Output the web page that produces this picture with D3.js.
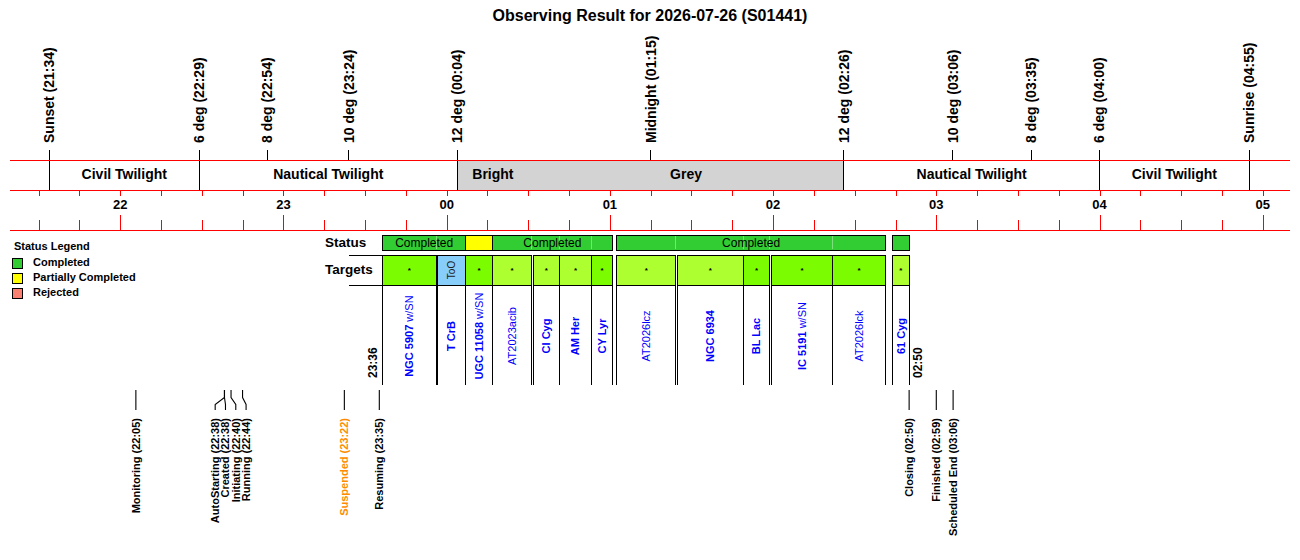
<!DOCTYPE html>
<html><head><meta charset="utf-8">
<script src="https://cdn.jsdelivr.net/npm/d3@7"></script>
<style>body{margin:0;background:#fff} text{font-family:"Liberation Sans",Arial,Helvetica,sans-serif} line,rect{shape-rendering:crispEdges}</style>
</head><body><svg id="c" width="1300" height="560"></svg>
<script>
// ---------------- DATA ----------------
const title = "Observing Result for 2026-07-26 (S01441)";
const domainTimes = ["21:19:30", "05:10:00"];

const sunNames = ["Sunset", "6 deg", "8 deg", "10 deg", "12 deg", "Midnight", "12 deg", "10 deg", "8 deg", "6 deg", "Sunrise"];
const sunTimes = ["21:34", "22:29", "22:54", "23:24", "00:04", "01:15", "02:26", "03:06", "03:35", "04:00", "04:55"];
const sunIsBoundary = [true, true, false, false, true, false, true, false, false, true, true];

const bandNames = ["Civil Twilight", "Nautical Twilight", "Bright", "Grey", "Nautical Twilight", "Civil Twilight"];
const bandStarts = ["21:34", "22:29", "00:04", "00:30", "02:26", "04:00"];
const bandEnds = ["22:29", "00:04", "00:30", "02:26", "04:00", "04:55"];
const bandKinds = ["twilight", "twilight", "moon", "moon", "twilight", "twilight"];

const targetNames = ["NGC 5907 w/SN", "T CrB", "UGC 11058 w/SN", "AT2023acib", "CI Cyg", "AM Her", "CY Lyr",
  "AT2026lcz", "NGC 6934", "BL Lac", "IC 5191 w/SN", "AT2026lck", "61 Cyg"];
const targetStarts = ["23:36:30", "23:56:40", "00:07:00", "00:16:48", "00:31:50", "00:41:24", "00:53:18",
  "01:02:30", "01:24:54", "01:49:00", "01:59:24", "02:21:54", "02:43:54"];
const targetEnds = ["23:56:06", "00:07:00", "00:16:48", "00:31:18", "00:41:24", "00:53:18", "01:00:54",
  "01:24:18", "01:49:00", "01:58:48", "02:21:54", "02:41:18", "02:50:00"];
const targetClass = ["a", "too", "a", "b", "b", "b", "a", "b", "b", "a", "a", "a", "b"];

const statusStarts = ["23:36:30", "23:56:06", "00:07:00", "00:16:48", "00:31:18", "00:41:24", "00:53:18",
  "01:02:30", "01:24:18", "01:49:00", "01:58:48", "02:21:54", "02:43:54"];
const statusEnds = ["23:56:06", "00:07:00", "00:16:48", "00:31:18", "00:41:24", "00:53:18", "01:00:54",
  "01:24:18", "01:49:00", "01:58:48", "02:21:54", "02:41:18", "02:50:00"];
const statusValues = ["Completed", "Completed", "Partially Completed", "Completed", "Completed", "Completed", "Completed",
  "Completed", "Completed", "Completed", "Completed", "Completed", "Completed"];

const legendItems = ["Completed", "Partially Completed", "Rejected"];

const eventNames = ["Monitoring", "AutoStarting", "Created", "Initiating", "Running", "Suspended", "Resuming", "Closing", "Finished", "Scheduled End"];
const eventTimes = ["22:05:46", "22:38:20", "22:38:20", "22:40:45", "22:44:59", "23:22:24", "23:35:15", "02:50:00", "02:59:59", "03:06:10"];

// ---------------- DRAW ----------------
const parse = t => { const p = t.split(":").map(Number); const day = p[0] >= 12 ? 26 : 27; return new Date(2026, 6, day, p[0], p[1], p[2] || 0); };
const fmt = d3.timeFormat("%H:%M");
const svg = d3.select("#c");

const x = d3.scaleTime().domain(domainTimes.map(parse)).range([10, 1290]);
const statusColor = d3.scaleOrdinal().domain(legendItems).range(["#32cd32", "#ffff00", "#fa8072"]);
const cellColor = d3.scaleOrdinal().domain(["a", "b", "too"]).range(["#7cfc00", "#adff2f", "#87cefa"]);
const bandColor = d3.scaleOrdinal().domain(["twilight", "moon"]).range(["#ffffff", "#d3d3d3"]);

const Y = { bandTop: 160, bandBot: 190, axisBot: 230 };

// title
svg.append("text").attr("x", 650).attr("y", 15).attr("dy", "0.35em").attr("text-anchor", "middle")
  .attr("font-size", 16).attr("font-weight", "bold").text(title);

// bands
const bands = bandNames.map((n, i) => ({ n, s: parse(bandStarts[i]), e: parse(bandEnds[i]), k: bandKinds[i] }));
svg.append("g").selectAll("rect").data(bands).join("rect")
  .attr("x", d => x(d.s)).attr("width", d => x(d.e) - x(d.s))
  .attr("y", Y.bandTop).attr("height", Y.bandBot - Y.bandTop).attr("fill", d => bandColor(d.k));
svg.append("g").selectAll("text").data(bands).join("text")
  .attr("x", d => (x(d.s) + x(d.e)) / 2).attr("y", 174.5).attr("dy", "0.35em").attr("text-anchor", "middle")
  .attr("font-size", 14).attr("font-weight", "bold").text(d => d.n);

// sun events
const suns = sunNames.map((n, i) => ({ n, t: parse(sunTimes[i]), lab: sunTimes[i], b: sunIsBoundary[i] }));
svg.append("g").selectAll("line").data(suns).join("line")
  .attr("x1", d => x(d.t)).attr("x2", d => x(d.t)).attr("y1", 150).attr("y2", d => d.b ? Y.bandBot : Y.bandTop)
  .attr("stroke", "#000").attr("stroke-width", 1);
svg.append("g").selectAll("text").data(suns).join("text")
  .attr("transform", d => `translate(${x(d.t)},143) rotate(-90)`).attr("dy", "0.35em")
  .attr("font-size", 14).attr("font-weight", "bold").text(d => `${d.n} (${d.lab})`);

// red axis lines
[Y.bandTop, Y.bandBot, Y.axisBot].forEach(y => svg.append("line").attr("x1", 10).attr("x2", 1290)
  .attr("y1", y).attr("y2", y).attr("stroke", "red").attr("stroke-width", 1));

// ticks
const q = d3.timeMinute.every(15);
const gTop = svg.append("g").attr("transform", `translate(0,${Y.bandBot})`)
  .call(d3.axisBottom(x).ticks(q).tickSize(6).tickFormat(""));
gTop.select(".domain").remove();
gTop.selectAll("line").attr("stroke", "red").attr("stroke-width", 1);
const gBot = svg.append("g").attr("transform", `translate(0,${Y.axisBot})`)
  .call(d3.axisTop(x).ticks(q).tickSize(10).tickFormat(""));
gBot.select(".domain").remove();
gBot.selectAll("line").attr("stroke", "red").attr("stroke-width", 1)
  .attr("y2", d => d.getMinutes() === 0 ? -15 : -10);
svg.append("g").selectAll("text").data(x.ticks(d3.timeHour.every(1))).join("text")
  .attr("x", d => x(d)).attr("y", 204).attr("dy", "0.35em").attr("text-anchor", "middle")
  .attr("font-size", 13).attr("font-weight", "bold").text(d3.timeFormat("%H"));

// legend
svg.append("text").attr("x", 14).attr("y", 246).attr("dy", "0.35em").attr("font-size", 11).attr("font-weight", "bold").text("Status Legend");
const lg = svg.append("g").selectAll("g").data(legendItems).join("g").attr("transform", (d, i) => `translate(12,${258 + i * 15})`);
lg.append("rect").attr("width", 10).attr("height", 10).attr("fill", d => statusColor(d)).attr("stroke", "#000").attr("stroke-width", 1);
lg.append("text").attr("x", 21).attr("y", 4.5).attr("dy", "0.35em").attr("font-size", 11).attr("font-weight", "bold").text(d => d);

// row labels
svg.append("text").attr("x", 325).attr("y", 242).attr("dy", "0.35em").attr("font-size", 13.5).attr("font-weight", "bold").text("Status");
svg.append("text").attr("x", 325).attr("y", 269).attr("dy", "0.35em").attr("font-size", 13.5).attr("font-weight", "bold").text("Targets");

// status bar
const segs = statusValues.map((v, i) => ({ v, s: parse(statusStarts[i]), e: parse(statusEnds[i]) }));
svg.append("g").selectAll("rect").data(segs).join("rect")
  .attr("x", d => x(d.s)).attr("width", d => x(d.e) - x(d.s)).attr("y", 235).attr("height", 15)
  .attr("fill", d => statusColor(d.v));
const groups = [];
segs.forEach(d => {
  const g = groups[groups.length - 1];
  if (g && g.v === d.v && +g.e === +d.s) { g.inner.push(d.s); g.e = d.e; }
  else groups.push({ v: d.v, s: d.s, e: d.e, inner: [] });
});
svg.append("g").selectAll("line").data(groups.flatMap(g => g.inner)).join("line")
  .attr("x1", d => x(d)).attr("x2", d => x(d)).attr("y1", 236).attr("y2", 249)
  .attr("stroke", "#80e080").attr("stroke-width", 1);
svg.append("g").selectAll("rect").data(groups).join("rect")
  .attr("x", d => x(d.s)).attr("width", d => x(d.e) - x(d.s)).attr("y", 235).attr("height", 15)
  .attr("fill", "none").attr("stroke", "#000").attr("stroke-width", 1);
svg.append("g").selectAll("text").data(groups.filter(g => x(g.e) - x(g.s) > 62)).join("text")
  .attr("x", d => (x(d.s) + x(d.e)) / 2).attr("y", 242.5).attr("dy", "0.35em").attr("text-anchor", "middle")
  .attr("font-size", 12).text(d => d.v);

// targets
const tg = targetNames.map((n, i) => ({ n, s: parse(targetStarts[i]), e: parse(targetEnds[i]), c: targetClass[i] }));
[255, 285].forEach(y => svg.append("line").attr("x1", 349).attr("x2", x(tg[0].s)).attr("y1", y).attr("y2", y)
  .attr("stroke", "#000").attr("stroke-width", 1));
svg.append("g").selectAll("rect").data(tg).join("rect")
  .attr("x", d => x(d.s)).attr("width", d => x(d.e) - x(d.s)).attr("y", 255).attr("height", 30)
  .attr("fill", d => cellColor(d.c)).attr("stroke", "#000").attr("stroke-width", 1);
svg.append("g").selectAll("text").data(tg.filter(d => d.c !== "too")).join("text")
  .attr("x", d => (x(d.s) + x(d.e)) / 2).attr("y", 273).attr("text-anchor", "middle")
  .attr("font-size", 8).attr("font-weight", "bold").text("*");
svg.append("g").selectAll("text").data(tg.filter(d => d.c === "too")).join("text")
  .attr("transform", d => `translate(${(x(d.s) + x(d.e)) / 2},270) rotate(-90)`).attr("dy", "0.35em")
  .attr("text-anchor", "middle").attr("font-size", 10).attr("fill", "#222").text("ToO");
svg.append("g").selectAll("line").data(tg.flatMap(d => [d.s, d.e])).join("line")
  .attr("x1", d => x(d)).attr("x2", d => x(d)).attr("y1", 285).attr("y2", 385)
  .attr("stroke", "#000").attr("stroke-width", 1);
const nm = svg.append("g").selectAll("text").data(tg).join("text")
  .attr("transform", d => `translate(${(x(d.s) + x(d.e)) / 2},336) rotate(-90)`).attr("dy", "0.35em")
  .attr("text-anchor", "middle").attr("font-size", 11).attr("fill", "#0000ff")
  .attr("font-weight", d => d.n.startsWith("AT") ? "normal" : "bold");
nm.each(function (d) {
  const parts = d.n.split(" w/");
  const t = d3.select(this);
  t.append("tspan").text(parts[0]);
  if (parts.length > 1) t.append("tspan").attr("font-weight", "normal").text(" w/" + parts[1]);
});
const first = tg[0].s, last = tg[tg.length - 1].e;
svg.append("text").attr("transform", `translate(${x(first) - 9.5},378) rotate(-90)`).attr("dy", "0.35em")
  .attr("font-size", 12).attr("font-weight", "bold").text(fmt(first));
svg.append("text").attr("transform", `translate(${x(last) + 9},378) rotate(-90)`).attr("dy", "0.35em")
  .attr("font-size", 12).attr("font-weight", "bold").text(fmt(last));

// bottom events
const evs = eventNames.map((n, i) => ({ n, t: parse(eventTimes[i]) }));
function spread(xs, gap) {
  let gs = xs.map((v, i) => ({ idx: [i], orig: [v] }));
  const place = g => { const m = d3.mean(g.orig), n = g.orig.length; return d3.range(n).map(k => m + (k - (n - 1) / 2) * gap); };
  let changed = true;
  while (changed) {
    changed = false;
    for (let i = 0; i < gs.length - 1; i++) {
      const a = place(gs[i]), b = place(gs[i + 1]);
      if (b[0] - a[a.length - 1] < gap - 0.01) {
        gs[i].orig = gs[i].orig.concat(gs[i + 1].orig);
        gs[i].idx = gs[i].idx.concat(gs[i + 1].idx);
        gs.splice(i + 1, 1); changed = true; break;
      }
    }
  }
  const out = [];
  gs.forEach(g => { const p = place(g); g.idx.forEach((id, k) => out[id] = p[k]); });
  return out;
}
const lx = spread(evs.map(d => x(d.t)), 10.3);
evs.forEach((d, i) => d.lx = lx[i]);
svg.append("g").selectAll("path").data(evs).join("path")
  .attr("d", d => `M${x(d.t)},390V397.5L${d.lx},404.5V410`)
  .attr("fill", "none").attr("stroke", "#000").attr("stroke-width", 1.1);
svg.append("g").selectAll("text").data(evs).join("text")
  .attr("transform", d => `translate(${d.lx},418) rotate(-90)`).attr("dy", "0.35em")
  .attr("text-anchor", "end").attr("font-size", 11).attr("font-weight", "bold")
  .attr("fill", d => d.n === "Suspended" ? "#ff8c00" : "#000")
  .text(d => `${d.n} (${fmt(d.t)})`);
</script>
</body></html>
